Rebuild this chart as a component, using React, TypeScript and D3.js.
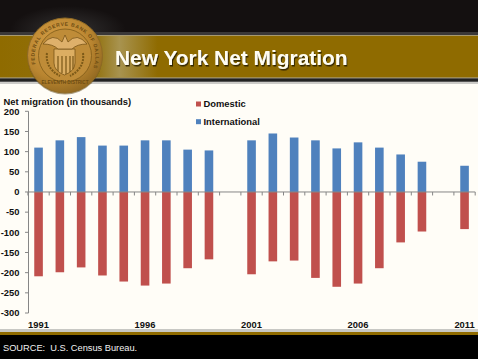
import React from "react";
import * as d3 from "d3";

const years = d3.range(1991, 2012);
const international = [110,128,136,115,115,128,128,105,103,null,128,145,135,128,108,123,110,93,75,null,65];
const domestic = [-209,-199,-187,-207,-222,-232,-227,-189,-167,null,-204,-172,-170,-213,-235,-227,-189,-125,-98,null,-92];
const yTicks = d3.range(-300, 201, 50);
const xLabels = [1991, 1996, 2001, 2006, 2011];
const title = "New York Net Migration";
const yTitle = "Net migration (in thousands)";
const source = "SOURCE:  U.S. Census Bureau.";
const legend = [{ name: "Domestic", color: "#c0504d" }, { name: "International", color: "#4f81bd" }];

const font = "'Liberation Sans', Arial, sans-serif";

export default function App() {
  const y = d3.scaleLinear().domain([-300, 200]).range([313, 111.3]);
  const x = d3.scaleBand<number>().domain(years).range([27.9, 475.2]).paddingInner(0).paddingOuter(0);
  const bw = 8.6;
  const cx = (yr: number) => x(yr)! + x.bandwidth() / 2;
  return (
    <svg width={478} height={359} style={{ position: "fixed", left: 0, top: 0, display: "block" }} fontFamily={font}>
      <defs>
        <linearGradient id="bandG" x1="0" x2="1" y1="0" y2="0">
          <stop offset="0" stopColor="#8f6b00" />
          <stop offset="0.2" stopColor="#927210" />
          <stop offset="0.25" stopColor="#a8934f" />
          <stop offset="0.33" stopColor="#8f6b00" />
          <stop offset="1" stopColor="#8f6b00" />
        </linearGradient>
        <radialGradient id="sealG" cx="0.4" cy="0.35" r="0.75">
          <stop offset="0" stopColor="#d8a048" />
          <stop offset="0.6" stopColor="#b98530" />
          <stop offset="1" stopColor="#86601c" />
        </radialGradient>
        <radialGradient id="glow" cx="0.5" cy="0.5" r="0.5">
          <stop offset="0" stopColor="#343232" />
          <stop offset="1" stopColor="#141010" />
        </radialGradient>
        <filter id="ts" x="-5%" y="-20%" width="110%" height="140%">
          <feDropShadow dx="1" dy="1.5" stdDeviation="0.6" floodColor="#2a1c00" floodOpacity="0.9" />
        </filter>
        <path id="sealArc" d="M 36.8 68 A 30.5 30.5 0 1 1 93.2 68" fill="none" />
      </defs>

      <rect width={478} height={359} fill="#fffdf7" />
      <rect width={478} height={33} fill="#141010" />
      <ellipse cx={68} cy={30} rx={58} ry={24} fill="url(#glow)" />
      <rect y={32} width={478} height={3} fill="#3a3838" />
      <rect y={35} width={478} height={1} fill="#a89a70" />
      <rect y={36} width={478} height={41} fill="url(#bandG)" />
      <rect y={77} width={478} height={1.3} fill="#a08c50" />
      <rect y={78.3} width={478} height={2.7} fill="#222" />
      <rect y={81} width={478} height={1} fill="#555" />
      <rect y={82} width={478} height={2} fill="#999" opacity={0.5} />

      <circle cx={65} cy={57} r={37.5} fill="#5c4210" opacity={0.5} />
      <circle cx={65} cy={55.5} r={37.5} fill="url(#sealG)" stroke="#8f6a25" strokeWidth={1} />
      <circle cx={65} cy={55.5} r={26.5} fill="#bf8c38" stroke="#7d5a18" strokeWidth={0.8} />
      <text fontSize={5} fill="#6e4c12" fontWeight="bold" letterSpacing={0.7}>
        <textPath href="#sealArc" startOffset={4}>FEDERAL RESERVE BANK OF DALLAS</textPath>
      </text>
      <text x={65} y={84} textAnchor="middle" fontSize={4.6} fill="#6e4c12" fontWeight="bold">ELEVENTH DISTRICT</text>
      <path d="M54 49 L75 49 L75 63 Q75 71 64.5 75 Q54 71 54 63 Z" fill="#dcae62" stroke="#6e4c12" strokeWidth={0.7} />
      <path d="M58 56V71M62 56V73M66 56V74M70 56V72M73 56V69" stroke="#7a5616" strokeWidth={1.2} />
      <path d="M43 44 Q53 32 62 42 L65 35 L68 42 Q77 32 87 44 Q77 44 72 49 L58 49 Q53 44 43 44Z" fill="#deb06a" stroke="#6e4c12" strokeWidth={0.7} />
      <path d="M47 53 Q45 68 60 76 M83 53 Q85 68 70 76" fill="none" stroke="#7d5a18" strokeWidth={2} strokeDasharray="2 1" />

      <text x={115} y={65} fontSize={20.9} fontWeight="bold" fill="#fffdf2" filter="url(#ts)">{title}</text>

      <text x={3.5} y={105} fontSize={9.4} fontWeight="bold" fill="#111">{yTitle}</text>
      {legend.map((l, i) => (
        <g key={l.name}>
          <rect x={196} y={101.5 + i * 17.7} width={5} height={5} fill={l.color} />
          <text x={203.5} y={107 + i * 17.7} fontSize={9.4} fontWeight="bold" fill="#111">{l.name}</text>
        </g>
      ))}

      {years.map((yr, i) => (
        <g key={yr}>
          {international[i] != null && (
            <rect x={cx(yr) - bw / 2} y={y(international[i]!)} width={bw} height={y(0) - y(international[i]!)} fill="#4f81bd" />
          )}
          {domestic[i] != null && (
            <rect x={cx(yr) - bw / 2} y={y(0)} width={bw} height={y(domestic[i]!) - y(0)} fill="#c0504d" />
          )}
        </g>
      ))}

      <line x1={28.5} x2={28.5} y1={111.3} y2={313} stroke="#868686" strokeWidth={1} />
      {yTicks.map((t) => (
        <g key={t}>
          <line x1={25} x2={28.5} y1={y(t)} y2={y(t)} stroke="#868686" />
          <text x={19.5} y={y(t) + 3.3} textAnchor="end" fontSize={9.4} fontWeight="bold" fill="#111">{t}</text>
        </g>
      ))}
      <line x1={28} x2={475.2} y1={y(0)} y2={y(0)} stroke="#868686" />
      {years.concat([2012]).map((yr) => {
        const px = yr === 2012 ? 475.2 : x(yr)!;
        return <line key={yr} x1={px} x2={px} y1={y(0)} y2={y(0) + 3.5} stroke="#868686" />;
      })}
      {xLabels.map((yr) => (
        <text key={yr} x={cx(yr)} y={328} textAnchor="middle" fontSize={9.4} fontWeight="bold" fill="#111">{yr}</text>
      ))}

      <rect y={329} width={478} height={3} fill="#c8c8c4" />
      <rect y={332} width={478} height={3} fill="#8f6b00" />
      <rect y={335} width={478} height={24} fill="#000" />
      <text x={3} y={351} fontSize={9.25} fill="#f2f2f2" xmlSpace="preserve">{source}</text>
    </svg>
  );
}
